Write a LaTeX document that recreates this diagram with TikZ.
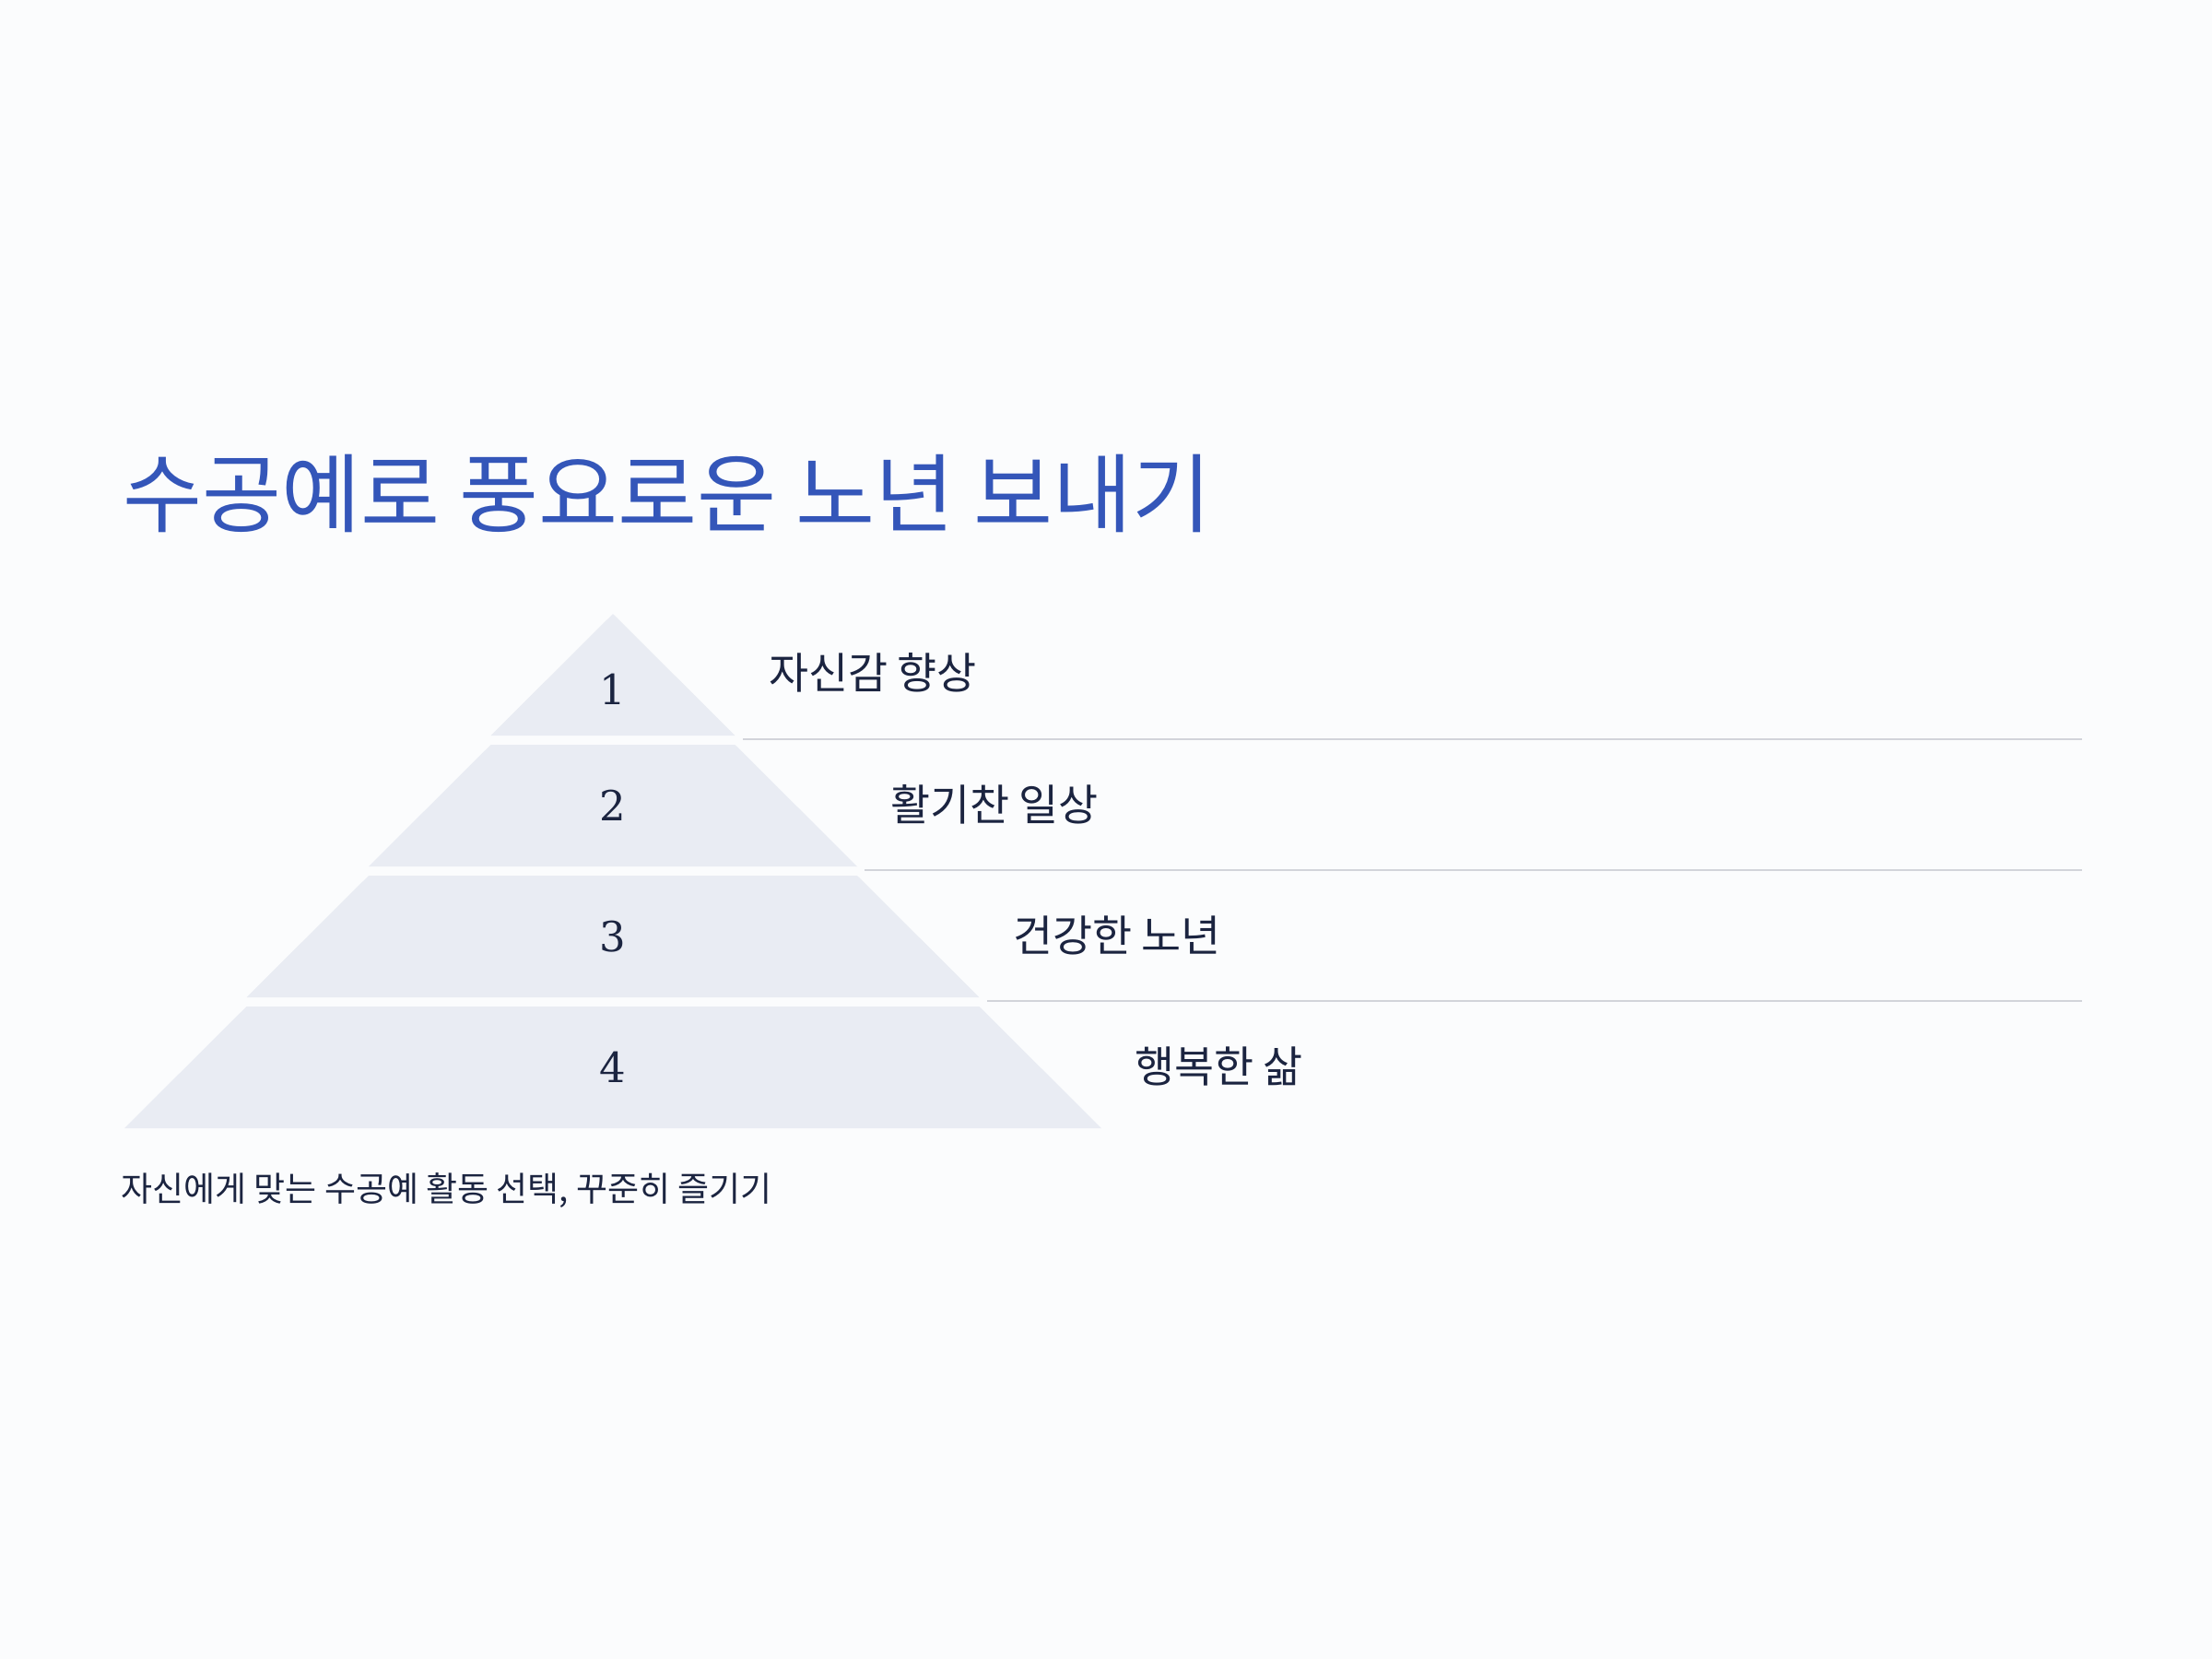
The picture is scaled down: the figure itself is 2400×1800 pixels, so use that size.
\documentclass[tikz,border=0pt]{standalone}
\usepackage{fontspec}
\setmainfont{Noto Sans CJK KR}
\newfontfamily\numfont{DejaVu Serif}
\definecolor{bgc}{HTML}{FBFCFD}
\definecolor{titleblue}{HTML}{3456B9}
\definecolor{ink}{HTML}{1B2440}
\definecolor{layerfill}{HTML}{E9ECF3}
\definecolor{sepline}{HTML}{D2D4DA}
\tikzset{
  layer/.style={fill=layerfill, draw=none},
  numlbl/.style={font=\numfont\fontsize{45}{50}\selectfont, text=ink, inner sep=0pt},
  sidelbl/.style={font=\fontsize{46.8}{52}\selectfont, text=ink, anchor=west, inner sep=0pt},
  sepstyle/.style={draw=sepline, line width=2pt},
}
\begin{document}
\begin{tikzpicture}[x=1pt,y=-1pt]
\useasboundingbox[fill=bgc] (0,0) rectangle (2400,1800);
% title
\node[anchor=west, inner sep=0pt, text=titleblue, font=\fontsize{93.5}{100}\selectfont] (title) at (133,535) {수공예로 풍요로운 노년 보내기};
% layers
\fill[layer] (665,666) -- (797.5,798) -- (532.5,798) -- cycle;
\fill[layer] (532.5,808) -- (797.5,808) -- (930,940) -- (400,940) -- cycle;
\fill[layer] (400,950) -- (930,950) -- (1062.5,1082) -- (267.5,1082) -- cycle;
\fill[layer] (267.5,1092) -- (1062.5,1092) -- (1195,1224) -- (135,1224) -- cycle;
% numbers
\node[numlbl] (n1) at (665,748) {1};
\node[numlbl] (n2) at (665,874) {2};
\node[numlbl] (n3) at (665,1016) {3};
\node[numlbl] (n4) at (665,1158) {4};
% separator lines
\coordinate (s1a) at (806,802); \coordinate (s1b) at (2259,802);
\coordinate (s2a) at (938,944); \coordinate (s2b) at (2259,944);
\coordinate (s3a) at (1071,1086); \coordinate (s3b) at (2259,1086);
\draw[sepstyle] (s1a) -- (s1b);
\draw[sepstyle] (s2a) -- (s2b);
\draw[sepstyle] (s3a) -- (s3b);
% side labels
\node[sidelbl] (l1) at (834,730) {자신감 향상};
\node[sidelbl] (l2) at (966,873) {활기찬 일상};
\node[sidelbl] (l3) at (1099,1015) {건강한 노년};
\node[sidelbl] (l4) at (1231,1157) {행복한 삶};
% footnote
\node[anchor=west, inner sep=0pt, text=ink, font=\fontsize{37}{42}\selectfont] (foot) at (131,1292) {자신에게 맞는 수공예 활동 선택, 꾸준히 즐기기};
\end{tikzpicture}
\end{document}
